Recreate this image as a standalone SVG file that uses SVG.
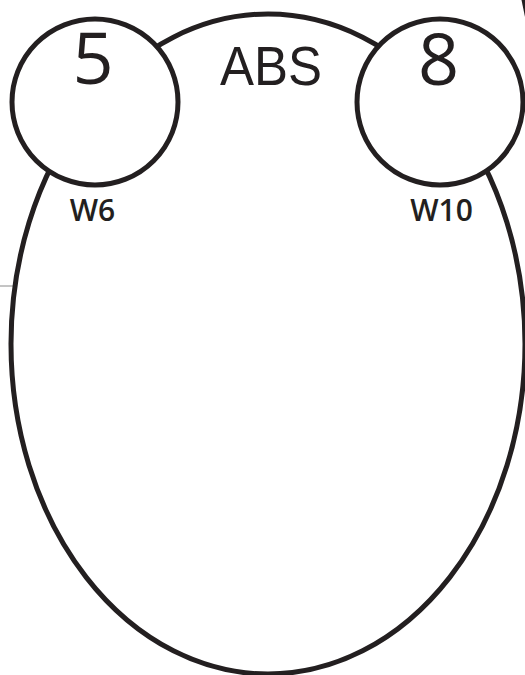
<svg xmlns="http://www.w3.org/2000/svg" width="525" height="675" viewBox="0 0 525 675">
<style>
.shape{fill:#fff;stroke:#231f20;stroke-width:5}
.num{font-family:"Open Sans","Liberation Sans",sans-serif;font-weight:400;font-size:72px;fill:#231f20;text-anchor:middle}
.lbl{font-family:"Open Sans","Liberation Sans",sans-serif;font-weight:600;font-size:30px;fill:#231f20;text-anchor:middle}
.title{font-family:"Liberation Sans",Arial,sans-serif;font-size:55px;fill:#231f20}
</style>
<rect width="525" height="675" fill="#fff"/>
<g id="connectors">
<line x1="0" y1="286" x2="13" y2="286" stroke="#8a8a8a" stroke-width="1"/>
<polygon points="521.5,0 525,0 525,17" fill="#231f20"/>
</g>
<g id="abs">
<ellipse class="shape" cx="268" cy="344" rx="257" ry="330"/>
<text class="title" x="220" y="85" textLength="102" lengthAdjust="spacingAndGlyphs">ABS</text>
</g>
<g id="node5">
<circle class="shape" cx="95" cy="102" r="83"/>
<text class="num" x="93" y="84">5</text>
<text class="lbl" x="92.5" y="221">W6</text>
</g>
<g id="node8">
<circle class="shape" cx="440" cy="102" r="83"/>
<text class="num" x="438.5" y="85">8</text>
<text class="lbl" x="441.5" y="221">W10</text>
</g>
</svg>
